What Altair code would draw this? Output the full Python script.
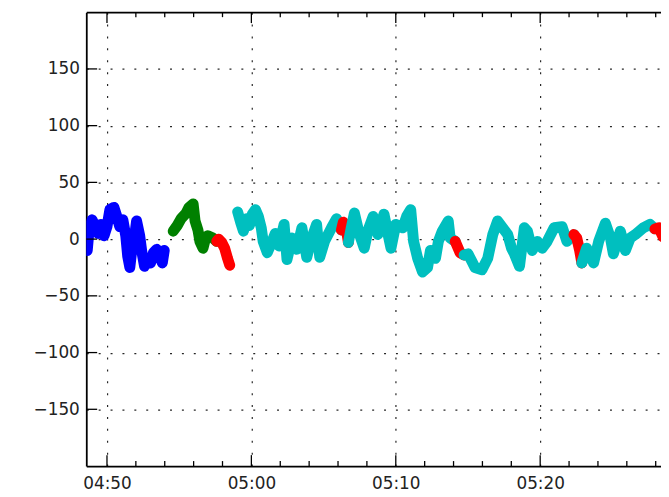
import altair as alt
import pandas as pd

DAY = "2015-01-01T"

# ---- data (time, value) ----
blue_t = ["04:48:38", "04:48:46", "04:48:58", "04:49:11", "04:49:23", "04:49:35", "04:49:48",
          "04:50:00", "04:50:12", "04:50:29", "04:50:41", "04:50:53", "04:51:06", "04:51:18",
          "04:51:26", "04:51:35", "04:51:43", "04:51:55", "04:52:03", "04:52:16", "04:52:24",
          "04:52:36", "04:52:49", "04:53:01", "04:53:13", "04:53:26", "04:53:38", "04:53:50",
          "04:53:58"]
blue_v = [-10, 9, 17, 11, 5, 13, 3, 11, 26, 28, 20, 11, 17, 3, -15, -25, -10, 3, 16, 3, -10,
          -24, -17, -21, -12, -9, -15, -21, -10]

green_t = ["04:54:35", "04:54:52", "04:55:08", "04:55:29", "04:55:41", "04:55:58", "04:56:06",
           "04:56:18", "04:56:26", "04:56:39", "04:56:51", "04:56:59", "04:57:20", "04:57:36"]
green_v = [7, 12, 18, 23, 28, 31, 16, 8, -2, -8, 2, 3, 1, -2]

red1_t = ["04:57:36", "04:57:44", "04:57:57", "04:58:09", "04:58:21", "04:58:30"]
red1_v = [-2, 0, -3, -8, -17, -23]

cyan1_t = ["04:59:03", "04:59:15", "04:59:27", "04:59:40", "04:59:52", "05:00:04", "05:00:17",
           "05:00:29", "05:00:41", "05:00:49", "05:01:06", "05:01:26", "05:01:39", "05:01:55",
           "05:02:16", "05:02:28", "05:02:49", "05:03:09", "05:03:30", "05:03:50", "05:04:11",
           "05:04:31", "05:04:44", "05:05:04", "05:05:33", "05:05:54", "05:06:14"]
cyan1_v = [24, 15, 7, 18, 12, 22, 26, 20, 10, -2, -12, -2, 5, -6, 13, -18, 1, -9, 10, -16, 1,
           13, -16, -2, 10, 18, 8]

red2_t = ["05:06:14", "05:06:22", "05:06:35", "05:06:43"]
red2_v = [8, 15, 8, -3]

cyan2_t = ["05:06:43", "05:06:55", "05:07:08", "05:07:28", "05:07:49", "05:08:05", "05:08:26",
           "05:08:46", "05:09:11", "05:09:27", "05:09:40", "05:10:00", "05:10:29", "05:10:45",
           "05:11:02", "05:11:14", "05:11:31", "05:11:51", "05:12:12", "05:12:24", "05:12:45",
           "05:12:57", "05:13:13", "05:13:38", "05:13:46", "05:14:07"]
cyan2_v = [-3, 10, 23, 5, -8, 8, 20, 4, 22, 5, -8, 13, 10, 20, 26, -2, -17, -29, -25, -10, -17,
           -2, 7, 16, 1, -2]

red3_t = ["05:14:07", "05:14:15", "05:14:27", "05:14:44"]
red3_v = [-2, -6, -12, -14]

cyan3_t = ["05:14:44", "05:15:00", "05:15:17", "05:15:29", "05:15:58", "05:16:22", "05:16:43",
           "05:17:03", "05:17:24", "05:17:45", "05:18:01", "05:18:13", "05:18:34", "05:18:54",
           "05:19:07", "05:19:27", "05:19:48", "05:20:08", "05:20:29", "05:20:58", "05:21:31",
           "05:21:51", "05:22:20"]
cyan3_v = [-14, -13, -20, -25, -27, -17, 4, 16, 10, 4, -8, -13, -24, 10, 7, -10, -2, -8, -2, 10,
           11, -2, 4]

red4_t = ["05:22:20", "05:22:32", "05:22:44", "05:22:53"]
red4_v = [4, 1, -10, -21]

cyan4_t = ["05:22:53", "05:23:13", "05:23:42", "05:24:03", "05:24:31", "05:24:52", "05:25:04",
           "05:25:33", "05:25:54", "05:26:14", "05:26:35", "05:27:08", "05:27:36", "05:27:57"]
cyan4_v = [-21, -8, -21, -2, 14, 1, -13, 7, -10, 1, 4, 10, 13, 9]

red5_t = ["05:27:57", "05:28:13", "05:28:30"]
red5_v = [9, 10, 2]

BLUE, GREEN, RED, CYAN = "#0000ff", "#008000", "#ff0000", "#00bfbf"

segments = [
    (BLUE, blue_t, blue_v), (GREEN, green_t, green_v), (RED, red1_t, red1_v),
    (CYAN, cyan1_t, cyan1_v), (RED, red2_t, red2_v), (CYAN, cyan2_t, cyan2_v),
    (RED, red3_t, red3_v), (CYAN, cyan3_t, cyan3_v), (RED, red4_t, red4_v),
    (CYAN, cyan4_t, cyan4_v), (RED, red5_t, red5_v),
]

major_ticks = ["04:50:00", "05:00:00", "05:10:00", "05:20:00"]
minor_ticks = ["04:52:00", "04:54:00", "04:56:00", "04:58:00", "05:02:00", "05:04:00",
               "05:06:00", "05:08:00", "05:12:00", "05:14:00", "05:16:00", "05:18:00",
               "05:22:00", "05:24:00", "05:26:00", "05:28:00"]
y_ticks = [-150, -100, -50, 0, 50, 100, 150]
x_range = ["04:48:34", "05:28:22"]
y_range = [-200, 200]

rows = []
for i, (col, ts, vs) in enumerate(segments):
    for t, v in zip(ts, vs):
        rows.append({"time": DAY + t, "value": v, "seg": str(i), "col": col})
df = pd.DataFrame(rows)


def dt(s):
    h, m, sec = map(int, s.split(":"))
    return alt.DateTime(year=2015, month=1, date=1, hours=h, minutes=m, seconds=sec)


W, H = 580, 458
FONT = "DejaVu Sans"
x_scale = alt.Scale(domain=[dt(x_range[0]), dt(x_range[1])], nice=False)
y_scale = alt.Scale(domain=y_range, nice=False, zero=False)

grid_style = dict(grid=True, gridDash=[2, 10], gridColor="#000000", gridWidth=1.2,
                  gridOpacity=0.85)

lines = alt.Chart(df).mark_line(
    strokeWidth=11, strokeCap="round", strokeJoin="round", clip=True
).encode(
    x=alt.X("time:T", scale=x_scale, axis=alt.Axis(
        values=[dt(t) for t in major_ticks], format="%H:%M", tickSize=0,
        domainColor="#000000", domainWidth=1.8, labelFontSize=17, labelFont=FONT,
        labelColor="#222222", labelPadding=10, title=None, **grid_style)),
    y=alt.Y("value:Q", scale=y_scale, axis=alt.Axis(
        values=y_ticks, tickSize=0, domainColor="#000000", domainWidth=1.8,
        labelFontSize=17, labelFont=FONT, labelColor="#222222", labelPadding=7,
        title=None, **grid_style)),
    detail="seg:N",
    color=alt.Color("col:N", scale=None),
)

maj_df = pd.DataFrame({"t": [DAY + t for t in major_ticks]})
min_df = pd.DataFrame({"t": [DAY + t for t in minor_ticks]})
yt_df = pd.DataFrame({"v": y_ticks})

bot_major = alt.Chart(maj_df).mark_rule(color="black", strokeWidth=1.3).encode(
    x=alt.X("t:T", scale=x_scale, axis=None), y=alt.value(H), y2=alt.value(H - 11))
bot_minor = alt.Chart(min_df).mark_rule(color="black", strokeWidth=1.3).encode(
    x=alt.X("t:T", scale=x_scale, axis=None), y=alt.value(H), y2=alt.value(H - 5))
top_major = alt.Chart(maj_df).mark_rule(color="black", strokeWidth=1.3).encode(
    x=alt.X("t:T", scale=x_scale, axis=alt.Axis(
        orient="top", labels=False, ticks=False, grid=False, domainColor="#000000",
        domainWidth=1.8, title=None)),
    y=alt.value(0), y2=alt.value(11))
top_minor = alt.Chart(min_df).mark_rule(color="black", strokeWidth=1.3).encode(
    x=alt.X("t:T", scale=x_scale, axis=None), y=alt.value(0), y2=alt.value(5))
left_ticks = alt.Chart(yt_df).mark_rule(color="black", strokeWidth=1.3).encode(
    y=alt.Y("v:Q", scale=y_scale, axis=None), x=alt.value(0), x2=alt.value(11))

chart = alt.layer(
    lines, bot_major, bot_minor, top_major, top_minor, left_ticks
).resolve_axis(x="independent", y="independent").properties(
    width=W, height=H,
    autosize=alt.AutoSizeParams(type="none"),
    padding={"left": 79, "top": 2, "right": 0, "bottom": 27},
).configure_view(stroke=None)

chart.save("out.html", embed_options={"renderer": "svg", "actions": False})
